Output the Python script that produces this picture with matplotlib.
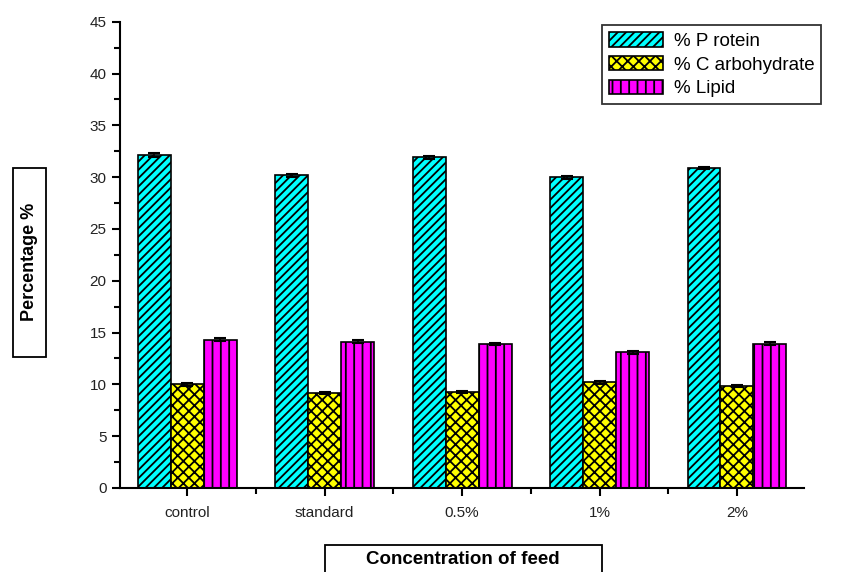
import numpy as np
import matplotlib
matplotlib.use('Agg')
import matplotlib.pyplot as plt
from matplotlib.patches import Rectangle
from matplotlib.ticker import MultipleLocator

plt.rcParams['font.family'] = ['Liberation Sans', 'DejaVu Sans']
plt.rcParams['hatch.linewidth'] = 1.3

# feed groups and measured composition (%)
groups = ['control', 'standard', '0.5%', '1%', '2%']
protein = [32.1, 30.2, 31.9, 30.0, 30.9]
carbohydrate = [10.0, 9.2, 9.3, 10.2, 9.8]
lipid = [14.3, 14.1, 13.9, 13.1, 13.9]
protein_err = [0.2, 0.15, 0.15, 0.15, 0.1]
carbohydrate_err = [0.15, 0.1, 0.1, 0.15, 0.1]
lipid_err = [0.15, 0.15, 0.1, 0.15, 0.15]

W, H = 844, 572
fig = plt.figure(figsize=(W / 100, H / 100), dpi=100)
ax = fig.add_axes([0.142, 0.147, 0.811, 0.815])

x = np.arange(len(groups))
w = 0.24
series = [
    (protein, protein_err, '#00ffff', '////', '% P rotein'),
    (carbohydrate, carbohydrate_err, '#ffff00', 'xxx', '% C arbohydrate'),
    (lipid, lipid_err, '#ff00ff', '||', '% Lipid'),
]
for i, (vals, err, color, hatch, label) in enumerate(series):
    ax.bar(x + (i - 1) * w, vals, w, yerr=err, color=color, hatch=hatch,
           edgecolor='black', linewidth=1.2, label=label,
           error_kw=dict(ecolor='black', elinewidth=1.2, capsize=4, capthick=1.5))

ax.set_xlim(-0.49, 4.49)
ax.set_ylim(0, 45)
ax.set_xticks(x)
ax.set_xticklabels(groups)
ax.xaxis.set_minor_locator(MultipleLocator(0.5))
ax.yaxis.set_major_locator(MultipleLocator(5))
ax.yaxis.set_minor_locator(MultipleLocator(2.5))
ax.tick_params(axis='both', which='major', length=6, width=1.5, labelsize=11,
               colors='black', labelcolor='#222222')
ax.tick_params(axis='both', which='minor', length=4, width=1.5)
ax.tick_params(axis='x', pad=7)

for side in ['top', 'right']:
    ax.spines[side].set_visible(False)
for side in ['left', 'bottom']:
    ax.spines[side].set_linewidth(1.5)

# boxed axis titles, drawn in pixel coordinates of the figure
def px_box(x0, y0, x1, y1):
    fig.patches.append(Rectangle((x0 / W, 1 - y1 / H), (x1 - x0) / W, (y1 - y0) / H,
                                 transform=fig.transFigure, facecolor='white',
                                 edgecolor='black', linewidth=1.3))

px_box(13, 168, 46, 357)
fig.text(29.5 / W, 1 - 262 / H, 'Percentage %', rotation=90, ha='center', va='center',
         fontsize=13, fontweight='bold', fontstretch='condensed')
px_box(325, 545, 602, 575)
fig.text(463 / W, 1 - 559 / H, 'Concentration of feed', ha='center', va='center',
         fontsize=13.5, fontweight='bold')

leg = fig.legend(loc='upper left', bbox_to_anchor=(602 / W, 1 - 25 / H), frameon=True,
                 fancybox=False, edgecolor='black', fontsize=13.5,
                 handlelength=2.9, handleheight=0.85, handletextpad=0.6,
                 labelspacing=0.32, borderpad=0.35, borderaxespad=0)
leg.get_frame().set_linewidth(1.3)

fig.savefig('out.png', dpi=100)
